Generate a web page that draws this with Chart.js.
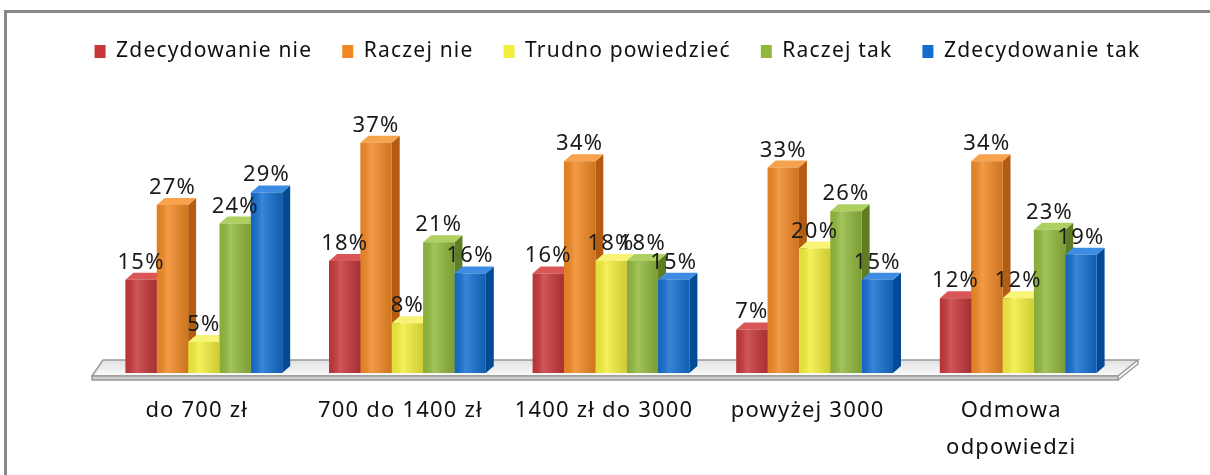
<!DOCTYPE html>
<html>
<head>
<meta charset="utf-8">
<script src="https://cdn.jsdelivr.net/npm/chart.js@4"></script>
<style>
  html, body { margin: 0; padding: 0; background: #fff; overflow: hidden; }
  #ramka { position: absolute; left: 4px; top: 10px; width: 1400px; height: 700px; border: 3px solid #878787; }
  #wrap { position: absolute; left: 0; top: 0; width: 1210px; height: 475px; }
</style>
</head>
<body>
<div id="ramka"></div>
<div id="wrap"><canvas id="wykres"></canvas></div>
<script>
// dane
const kategorie = ['do 700 zł', '700 do 1400 zł', '1400 zł do 3000', 'powyżej 3000', ['Odmowa', 'odpowiedzi']];
const serie = ['Zdecydowanie nie', 'Raczej nie', 'Trudno powiedzieć', 'Raczej tak', 'Zdecydowanie tak'];
const zdecydowanieNie = [15, 18, 16, 7, 12];
const raczejNie = [27, 37, 34, 33, 34];
const trudnoPowiedziec = [5, 8, 18, 20, 12];
const raczejTak = [24, 21, 18, 26, 23];
const zdecydowanieTak = [29, 16, 15, 15, 19];

// kolory: przód, bok, góra
const kolory = ['#C53739', '#F08824', '#F2EE3C', '#91B83D', '#146ECF'];
const kolorBok = ['#8C2224', '#B35C12', '#B5AE1E', '#5F7D24', '#034A95'];
const kolorGora = ['#DA5656', '#F7A24C', '#F8F478', '#AED060', '#3C8CE4'];

const GX = 8, GY = 7;

Chart.defaults.font.family = "'Noto Sans', sans-serif";
Chart.defaults.color = '#111';

function rozstaw(chart) {
  chart.ctx.letterSpacing = '1.2px';
}

const efekt3d = {
  id: 'efekt3d',
  beforeInit(chart) {
    rozstaw(chart);
    const fit = chart.legend.fit;
    chart.legend.fit = function () {
      fit.call(this);
      this.height = 113;
    };
  },
  beforeUpdate(chart) { rozstaw(chart); },
  beforeLayout(chart) { rozstaw(chart); },
  beforeDraw(chart) { rozstaw(chart); },
  beforeDatasetsDraw(chart) {
    const { ctx, chartArea: a } = chart;
    ctx.save();
    // podłoga
    const fy = a.bottom + 3, by = a.bottom - 13;
    const fl = a.left - 10, fr = a.right - 2, bl = a.left + 1, br = a.right + 18;
    const g = ctx.createLinearGradient(0, by, 0, fy);
    g.addColorStop(0, '#e2e2e2');
    g.addColorStop(1, '#fafafa');
    ctx.fillStyle = g;
    ctx.strokeStyle = '#9a9a9a';
    ctx.lineWidth = 1.5;
    ctx.beginPath();
    ctx.moveTo(bl, by); ctx.lineTo(br, by); ctx.lineTo(fr, fy); ctx.lineTo(fl, fy); ctx.closePath();
    ctx.fill(); ctx.stroke();
    ctx.fillStyle = '#cfcfcf';
    ctx.beginPath();
    ctx.moveTo(fl, fy); ctx.lineTo(fr, fy); ctx.lineTo(fr, fy + 4); ctx.lineTo(fl, fy + 4); ctx.closePath();
    ctx.fill(); ctx.stroke();
    ctx.beginPath();
    ctx.moveTo(br, by); ctx.lineTo(br, by + 4); ctx.lineTo(fr, fy + 4);
    ctx.stroke();

    // boki i góry słupków
    chart.data.datasets.forEach((ds, i) => {
      const meta = chart.getDatasetMeta(i);
      if (meta.hidden) return;
      meta.data.forEach(el => {
        const { x, y, base, width } = el.getProps(['x', 'y', 'base', 'width'], true);
        const l = x - width / 2, r = x + width / 2;
        ctx.fillStyle = kolorBok[i];
        ctx.beginPath();
        ctx.moveTo(r, y); ctx.lineTo(r + GX, y - GY); ctx.lineTo(r + GX, base - GY); ctx.lineTo(r, base);
        ctx.closePath(); ctx.fill();
        ctx.fillStyle = kolorGora[i];
        ctx.beginPath();
        ctx.moveTo(l, y); ctx.lineTo(l + GX, y - GY); ctx.lineTo(r + GX, y - GY); ctx.lineTo(r, y);
        ctx.closePath(); ctx.fill();
      });
    });
    ctx.restore();
  },
  afterDatasetsDraw(chart) {
    const { ctx } = chart;
    ctx.save();
    chart.data.datasets.forEach((ds, i) => {
      const meta = chart.getDatasetMeta(i);
      if (meta.hidden) return;
      meta.data.forEach(el => {
        const { x, y, base, width } = el.getProps(['x', 'y', 'base', 'width'], true);
        const l = x - width / 2;
        const g = ctx.createLinearGradient(l, 0, l + width, 0);
        g.addColorStop(0, 'rgba(0,0,0,0.06)');
        g.addColorStop(0.35, 'rgba(255,255,255,0.16)');
        g.addColorStop(1, 'rgba(0,0,0,0.14)');
        ctx.fillStyle = g;
        ctx.fillRect(l, y, width, base - y);
      });
    });
    // etykiety wartości
    ctx.font = "22px 'Noto Sans', sans-serif";
    ctx.fillStyle = '#1a1a1a';
    ctx.textAlign = 'center';
    ctx.textBaseline = 'alphabetic';
    chart.data.datasets.forEach((ds, i) => {
      const meta = chart.getDatasetMeta(i);
      if (meta.hidden) return;
      meta.data.forEach((el, j) => {
        ctx.fillText(ds.data[j] + '%', el.x, el.y - 11);
      });
    });
    ctx.restore();
  }
};

const ukryta = {
  display: true,
  ticks: { display: false },
  grid: { display: false },
  border: { display: false }
};

const ctx = document.getElementById('wykres').getContext('2d');
const wykres = new Chart(ctx, {
  type: 'bar',
  data: {
    labels: kategorie,
    datasets: [zdecydowanieNie, raczejNie, trudnoPowiedziec, raczejTak, zdecydowanieTak].map((d, i) => ({
      label: serie[i],
      data: d,
      backgroundColor: kolory[i],
      borderWidth: 0
    }))
  },
  options: {
    responsive: true,
    maintainAspectRatio: false,
    animation: false,
    categoryPercentage: 0.77,
    barPercentage: 1.0,
    layout: { padding: { left: 30, right: 5, top: 11, bottom: 0 } },
    plugins: {
      legend: {
        position: 'top',
        labels: { boxWidth: 11, boxHeight: 13, padding: 30, font: { size: 21 }, color: '#111' }
      },
      tooltip: { enabled: false }
    },
    scales: {
      x: {
        grid: { display: false, drawTicks: false },
        border: { display: false },
        ticks: { padding: 19, labelOffset: -7, font: { size: 22, lineHeight: 1.68 }, color: '#111', maxRotation: 0, autoSkip: false },
        afterFit(s) { s.height = 102; }
      },
      y: {
        ...ukryta,
        position: 'left',
        min: 0,
        max: 40,
        afterFit(s) { s.width = 72; }
      },
      y2: {
        ...ukryta,
        position: 'right',
        afterFit(s) { s.width = 85; }
      }
    }
  },
  plugins: [efekt3d]
});
</script>
</body>
</html>
